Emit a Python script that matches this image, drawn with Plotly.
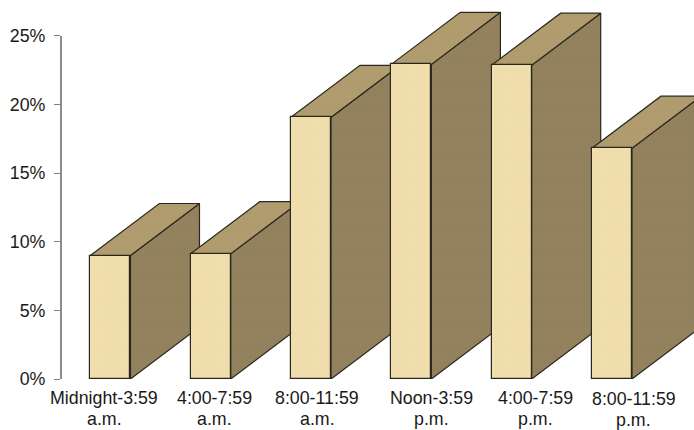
import plotly.graph_objects as go

categories_line1 = ["Midnight-3:59", "4:00-7:59", "8:00-11:59", "Noon-3:59", "4:00-7:59", "8:00-11:59"]
categories_line2 = ["a.m.", "a.m.", "a.m.", "p.m.", "p.m.", "p.m."]
values = [9.0, 9.13, 19.07, 22.93, 22.87, 16.82]
y_ticks = [0, 5, 10, 15, 20, 25]
y_labels = ["0%", "5%", "10%", "15%", "20%", "25%"]

BAR_W = 0.4
DEPTH_X = 0.688
DEPTH_Y = 3.79
X_RANGE = [-0.4925, 5.818]
Y_RANGE = [0, 27.62]
FONT = dict(family="Liberation Sans, Arial, sans-serif", size=17.8, color="#1a1a1a")
EDGE = "#2a281e"
# per-label nudges of the category text, in pixels
LABEL_SHIFT_X = [-6, 4, 6, 20, 24, 22]
LABEL_SHIFT_Y = [0, 0, 0, 0, 0, -1]

fig = go.Figure()


def face(xs, ys, color, pat):
    fig.add_trace(go.Scatter(
        x=xs, y=ys, mode="lines", fill="toself", fillcolor=color,
        fillpattern=dict(shape="+", size=6, solidity=0.1, fgcolor=pat, bgcolor=color),
        line=dict(color=EDGE, width=1.2), hoverinfo="skip", showlegend=False))


for i, v in enumerate(values):
    r = i + BAR_W / 2
    l = i - BAR_W / 2
    # side face
    face([r, r + DEPTH_X, r + DEPTH_X, r, r], [0, DEPTH_Y, v + DEPTH_Y, v, 0], "#94825e", "#85734f")
    # top face
    face([l, l + DEPTH_X, r + DEPTH_X, r, l], [v, v + DEPTH_Y, v + DEPTH_Y, v, v], "#b19c6f", "#a18d60")

fig.add_trace(go.Bar(
    x=list(range(len(values))), y=values, width=BAR_W, xaxis="x2", yaxis="y2",
    marker=dict(color="#efdcab", line=dict(color=EDGE, width=1.2),
                pattern=dict(shape="+", size=6, solidity=0.1, fgcolor="#e3c98a", bgcolor="#f0deaf")),
    hoverinfo="skip", showlegend=False))

annotations = []
for i in range(len(values)):
    for text, drop in ((categories_line1[i], 7), (categories_line2[i], 28)):
        annotations.append(dict(text=text, x=i, y=0, xref="x", yref="y", yanchor="top", xanchor="center",
                                xshift=LABEL_SHIFT_X[i], yshift=-drop + LABEL_SHIFT_Y[i], showarrow=False,
                                font=FONT, align="center"))

# axis line stops at the top tick
shapes = [dict(type="line", xref="paper", yref="y", x0=0, x1=0,
               y0=y_ticks[0], y1=y_ticks[-1], line=dict(color="#8c8c8c", width=2), layer="above")]

fig.update_layout(
    width=694, height=430, margin=dict(l=61, r=0, t=0, b=51),
    paper_bgcolor="white", plot_bgcolor="white", showlegend=False,
    bargap=0, annotations=annotations, shapes=shapes,
    xaxis=dict(range=X_RANGE, showgrid=False, zeroline=False, showticklabels=False, ticks=""),
    yaxis=dict(range=Y_RANGE, showgrid=False, zeroline=False, showline=False,
               tickmode="array", tickvals=y_ticks, ticktext=y_labels,
               ticks="outside", ticklen=6, tickwidth=1, tickcolor="#808080",
               ticklabelstandoff=5, tickfont=FONT),
    xaxis2=dict(range=X_RANGE, overlaying="x", visible=False),
    yaxis2=dict(range=Y_RANGE, overlaying="y", visible=False),
)

fig.write_html("out.html", config=dict(displayModeBar=False),
               post_script="document.body.style.margin='0';")
